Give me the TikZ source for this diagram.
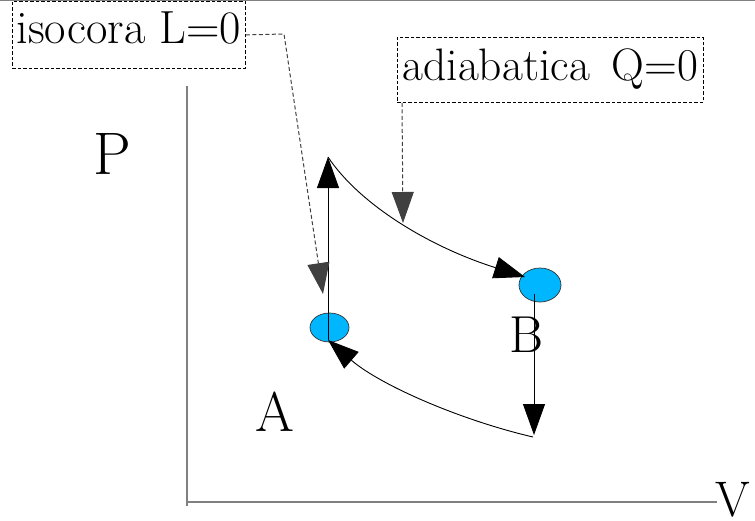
\documentclass[tikz,border=0pt]{standalone}
\usepackage{fontspec}
\usetikzlibrary{arrows.meta,shapes.geometric}
\definecolor{dotfill}{RGB}{0,182,255}
\definecolor{axisgray}{RGB}{128,128,128}
\tikzset{
  bigtip/.style={-{Triangle[length=31pt,width=22pt]}},
  cycleline/.style={line width=0.9pt, black, bigtip},
  noteconn/.style={line width=1pt, black!75, dash pattern=on 4pt off 2.5pt, bigtip},
  notebox/.style={draw=black, line width=0.8pt, dash pattern=on 3.5pt off 2pt, inner sep=0pt, anchor=north west},
  statedot/.style={ellipse, draw=black!80, line width=0.7pt, fill=dotfill, inner sep=0pt},
  biglabel/.style={inner sep=0pt, anchor=base, font=\fontsize{54}{58}\selectfont},
  axisline/.style={axisgray, line width=1.6pt}
}
\begin{document}
\begin{tikzpicture}[x=1pt,y=-1pt]
\useasboundingbox (0,0) rectangle (755,520);
% top frame line
\draw[axisgray, line width=1.5pt] (0,0.5) -- (755,0.5);
% axes
\coordinate (orig) at (187,502);
\coordinate (ytop) at (187,86);
\coordinate (xend) at (717,502);
\draw[axisline] (ytop) -- (187,506);
\draw[axisline] (orig) -- (xend);
% axis labels
\node[biglabel, font=\fontsize{60}{64}\selectfont] (P) at (112,174) {P};
\node[biglabel, font=\fontsize{50}{54}\selectfont] (V) at (733,516) {V};
% states
\node[statedot, minimum width=39pt, minimum height=29pt] (A) at (329.5,327.5) {};
\node[statedot, minimum width=42pt, minimum height=34pt] (B) at (540,285) {};
\node[biglabel, font=\fontsize{56}{60}\selectfont] (Alab) at (275,431) {A};
\node[biglabel, font=\fontsize{52}{56}\selectfont] (Blab) at (526,352) {B};
% cycle points
\coordinate (top) at (328,157);
\coordinate (Abot) at (328,340);
\coordinate (Bin) at (525,277);
\coordinate (Bout) at (534,294);
\coordinate (Bbot) at (534,435);
\coordinate (Bcorner) at (533,437);
\coordinate (Ain) at (328,340);
% cycle
\draw[cycleline] (Abot) -- (top);
\draw[cycleline] (top) .. controls (360,205) and (430,247) .. (Bin);
\draw[cycleline] (Bout) -- (Bbot);
\draw[cycleline] (Bcorner) .. controls (460,420) and (380,385) .. (Ain);
% note boxes
\node[notebox, minimum width=233pt, text height=42pt, text depth=25pt,
      font=\fontsize{46.5}{50}\selectfont] (iso) at (12,1) {isocora L=0};
\node[notebox, minimum width=306pt, text height=43pt, text depth=22pt,
      font=\fontsize{45.5}{50}\selectfont] (adia) at (397,37) {adiabatica\hspace{22pt}Q=0};
% note connectors
\coordinate (isoBend) at (284,34);
\coordinate (isoTip) at (323,294);
\coordinate (adiaTip) at (403,223);
\draw[noteconn] (iso.east) -- (isoBend) -- (isoTip);
\draw[noteconn] (adia.south west -| adiaTip) ++(-1,0) -- (adiaTip);
\end{tikzpicture}
\end{document}
